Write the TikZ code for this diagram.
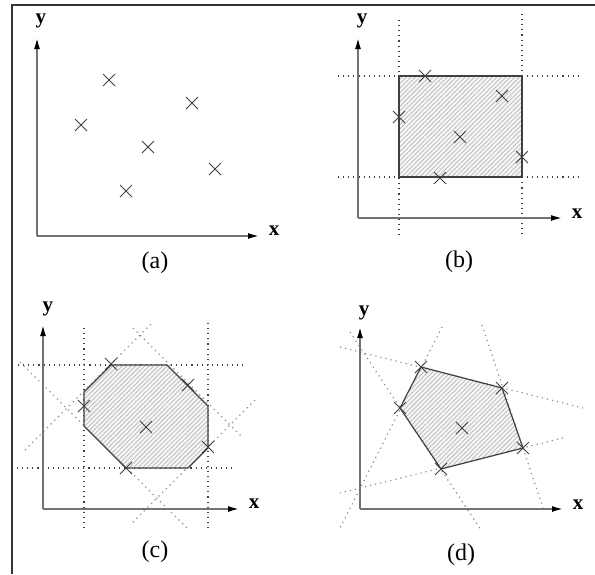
\documentclass[tikz,border=0pt]{standalone}
\usepackage{fontspec}
\setmainfont{Liberation Serif}
\usetikzlibrary{
  arrows.meta,
  shapes.misc,
  patterns.meta
}
\tikzset{
  line cap=round,
  line join=round,
  frameline/.style={draw=black!80, line width=1pt, line cap=butt},
  axis/.style={draw=black!55, line width=0.8pt, -{Latex[length=5.5pt,width=3pt,color=black]}},
  axlabel/.style={font=\fontsize{10.5}{12}\selectfont\bfseries, inner sep=0pt},
  caption/.style={font=\fontsize{12}{14}\selectfont, inner sep=0pt},
  crossmark/.style={cross out, draw=black!75, line width=0.5pt, minimum size=5.5pt, inner sep=0pt},
  boundline/.style={draw=black!75, dotted, line width=0.55pt},
  slantline/.style={draw=black!45, dotted, line width=0.6pt},
  region/.style={draw=black!75, line width=0.6pt, preaction={fill=gray!6},
    pattern={Lines[angle=45,distance=1.6pt,line width=0.45pt]}, pattern color=gray!50}
}
\begin{document}
\begin{tikzpicture}[x=0.5pt, y=-0.5pt]
	\useasboundingbox (0,0) rectangle (595,574);

	% Draw the frame (top and left only)
	\coordinate (frameB) at (12,574);
	\coordinate (frameC) at (12,5);
	\coordinate (frameR) at (595,5);
	\draw[frameline] (frameB) -- (frameC) -- (frameR);

	%%%% (a) the points
	\coordinate (oA) at (37,236);
	\coordinate (yA) at (37,38);
	\coordinate (xA) at (259,236);
	\draw[axis] (oA) -- (yA);
	\draw[axis] (oA) -- (xA);
	\node[axlabel] (ylabA) at (41,21) {y};
	\node[axlabel] (xlabA) at (274,231) {x};
	\node[caption] (capA) at (155,263) {(a)};
	\foreach \p [count=\i] in {(109,80),(192,103),(81,125),(148,147),(215,169),(126,191)}
		\node[crossmark] (a\i) at \p {};

	%%%% (b) bounding box
	\coordinate (oB) at (358,218);
	\coordinate (yB) at (358,38);
	\coordinate (xB) at (562,218);
	% dotted bounds
	\coordinate (bL1) at (399,20);  \coordinate (bL2) at (399,237);
	\coordinate (bR1) at (522,14);  \coordinate (bR2) at (522,237);
	\coordinate (bT1) at (338,76);  \coordinate (bT2) at (582,76);
	\coordinate (bD1) at (338,177); \coordinate (bD2) at (582,177);
	\draw[boundline] (bL1) -- (bL2);
	\draw[boundline] (bR1) -- (bR2);
	\draw[boundline] (bT1) -- (bT2);
	\draw[boundline] (bD1) -- (bD2);
	% the box itself
	\coordinate (boxSW) at (399,177);
	\coordinate (boxNE) at (522,76);
	\path[region] (boxSW) rectangle (boxNE);
	\draw[axis] (oB) -- (yB);
	\draw[axis] (oB) -- (xB);
	\node[axlabel] (ylabB) at (362,21) {y};
	\node[axlabel] (xlabB) at (577,214) {x};
	\node[caption] (capB) at (459,262) {(b)};
	\foreach \p [count=\i] in {(425,76),(502,96),(399,117),(460,137),(522,157),(440,178)}
		\node[crossmark] (b\i) at \p {};

	%%%% (c) octagon
	\coordinate (oC) at (43,509);
	\coordinate (yC) at (43,325);
	\coordinate (xC) at (239,509);
	% dotted bounds, axis parallel
	\coordinate (cL1) at (84,328);  \coordinate (cL2) at (84,528);
	\coordinate (cR1) at (208,323); \coordinate (cR2) at (208,528);
	\coordinate (cT1) at (18,365);  \coordinate (cT2) at (243,365);
	\coordinate (cD1) at (17,468);  \coordinate (cD2) at (233,468);
	\draw[boundline] (cL1) -- (cL2);
	\draw[boundline] (cR1) -- (cR2);
	\draw[boundline] (cT1) -- (cT2);
	\draw[boundline] (cD1) -- (cD2);
	% dotted bounds, diagonal
	\coordinate (cNW1) at (25,450);  \coordinate (cNW2) at (152,323);
	\coordinate (cSW1) at (20,362);  \coordinate (cSW2) at (187,528);
	\coordinate (cNE1) at (133,328); \coordinate (cNE2) at (243,438);
	\coordinate (cSE1) at (255,400); \coordinate (cSE2) at (132,523);
	\draw[slantline] (cNW1) -- (cNW2);
	\draw[slantline] (cSW1) -- (cSW2);
	\draw[slantline] (cNE1) -- (cNE2);
	\draw[slantline] (cSE1) -- (cSE2);
	% the octagon
	\coordinate (oct1) at (111,365);
	\coordinate (oct2) at (167,365);
	\coordinate (oct3) at (208,406);
	\coordinate (oct4) at (208,448);
	\coordinate (oct5) at (188,468);
	\coordinate (oct6) at (126,468);
	\coordinate (oct7) at (84,426);
	\coordinate (oct8) at (84,392);
	\path[region] (oct1) -- (oct2) -- (oct3) -- (oct4) -- (oct5) -- (oct6) -- (oct7) -- (oct8) -- cycle;
	\draw[axis] (oC) -- (yC);
	\draw[axis] (oC) -- (xC);
	\node[axlabel] (ylabC) at (48,309) {y};
	\node[axlabel] (xlabC) at (254,504) {x};
	\node[caption] (capC) at (155,552) {(c)};
	\foreach \p [count=\i] in {(111,364),(188,385),(84,406),(146,427),(208,447),(126,468)}
		\node[crossmark] (c\i) at \p {};

	%%%% (d) convex hull
	\coordinate (oD) at (360,509);
	\coordinate (yD) at (360,327);
	\coordinate (xD) at (563,509);
	% dotted hull edges
	\coordinate (dAB1) at (340,347); \coordinate (dAB2) at (583,408);
	\coordinate (dBC1) at (482,325); \coordinate (dBC2) at (543,508);
	\coordinate (dCD1) at (563,438); \coordinate (dCD2) at (340,493);
	\coordinate (dDE1) at (350,332); \coordinate (dDE2) at (481,530);
	\coordinate (dEA1) at (442,327); \coordinate (dEA2) at (340,528);
	\draw[slantline] (dAB1) -- (dAB2);
	\draw[slantline] (dBC1) -- (dBC2);
	\draw[slantline] (dCD1) -- (dCD2);
	\draw[slantline] (dDE1) -- (dDE2);
	\draw[slantline] (dEA1) -- (dEA2);
	% the pentagon
	\coordinate (hullA) at (421,367);
	\coordinate (hullB) at (502,388);
	\coordinate (hullC) at (523,448);
	\coordinate (hullD) at (441,469);
	\coordinate (hullE) at (400,408);
	\path[region] (hullA) -- (hullB) -- (hullC) -- (hullD) -- (hullE) -- cycle;
	\draw[axis] (oD) -- (yD);
	\draw[axis] (oD) -- (xD);
	\node[axlabel] (ylabD) at (364,313) {y};
	\node[axlabel] (xlabD) at (578,505) {x};
	\node[caption] (capD) at (461,555) {(d)};
	\foreach \p [count=\i] in {(421,367),(502,388),(523,448),(441,469),(400,408),(462,428)}
		\node[crossmark] (d\i) at \p {};
\end{tikzpicture}
\end{document}
